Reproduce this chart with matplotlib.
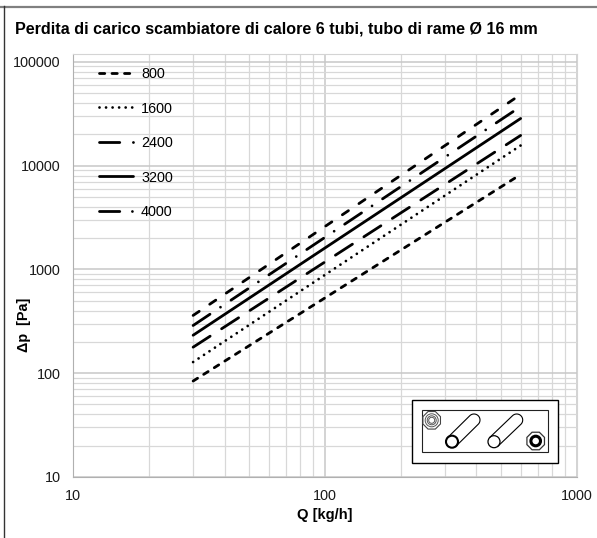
import numpy as np
import matplotlib
matplotlib.use('Agg')
import matplotlib.pyplot as plt
from matplotlib.patches import Rectangle, Circle, RegularPolygon

plt.rcParams['font.family'] = ['Liberation Sans', 'DejaVu Sans']
plt.rcParams['lines.scale_dashes'] = False

W, H = 597, 538

# values, Q [kg/h] and dp [Pa]
q = [30, 600]
dp_top = [360, 48300]
dp_4000 = [288, 37000]
dp_3200 = [232, 28400]
dp_2400 = [178, 19500]
dp_1600 = [128, 15600]
dp_800 = [84, 8200]

xticks = [10, 100, 1000]
yticks = [10, 100, 1000, 10000, 100000]

fig = plt.figure(figsize=(W / 100, H / 100), dpi=100)
ax = fig.add_axes([73 / W, 1 - 477 / H, (576.5 - 73) / W, (477 - 53.5) / H])

lw = 2.0
ax.plot(q, dp_top, color='black', lw=lw, ls=(0, (5.3, 9.1)), dash_capstyle='round')
ax.plot(q, dp_800, color='black', lw=lw, ls=(0, (3.8, 5.2)), dash_capstyle='round', label='800')
ax.plot(q, dp_1600, color='black', lw=2.0, ls=(0, (0.01, 4.7)), dash_capstyle='round', label='1600')
ax.plot(q, dp_2400, color='black', lw=lw, ls=(0, (14.6, 9.8)), dash_capstyle='round', label='2400')
ax.plot(q, dp_3200, color='black', lw=lw, solid_capstyle='round', label='3200')
ax.plot(q, dp_4000, color='black', lw=lw, ls=(0, (14.6, 9.1, 0.01, 9.1)), dash_capstyle='round', label='4000')

ax.set_xscale('log')
ax.set_yscale('log')
ax.set_xlim(10, 1000)
ax.set_ylim(10, 120000)
ax.set_xticks(xticks)
ax.set_xticklabels([str(v) for v in xticks])
ax.set_yticks(yticks)
ax.set_yticklabels([str(v) for v in yticks])
ax.minorticks_on()
ax.xaxis.set_minor_formatter(plt.NullFormatter())
ax.yaxis.set_minor_formatter(plt.NullFormatter())
ax.grid(which='major', color='#c8c8c8', lw=1.1)
ax.grid(which='minor', color='#d8d8d8', lw=0.9)
ax.set_axisbelow(True)
ax.tick_params(which='both', length=0, labelsize=10.4, colors='#1a1a1a')
ax.tick_params(axis='y', pad=9)
ax.tick_params(axis='x', pad=8.5)
for side in ['top', 'right']:
    ax.spines[side].set_color('#d4d4d4')
for side in ['left', 'bottom']:
    ax.spines[side].set_color('#b0b0b0')

ax.legend(loc='upper left', bbox_to_anchor=(26 / 503.5, 1 - 13.5 / 423.5), frameon=False,
          fontsize=10.4, handlelength=2.36, handletextpad=0.55, labelspacing=1.42,
          borderaxespad=0, borderpad=0)

fig.text(15 / W, 1 - 29 / H, 'Perdita di carico scambiatore di calore 6 tubi, tubo di rame Ø 16 mm',
         fontsize=11.6, fontweight='bold', va='center', ha='left')
fig.text(24 / W, 1 - 325 / H, 'Δp  [Pa]', rotation=90, fontsize=10.4, fontweight='bold', va='center', ha='center')
fig.text(325 / W, 1 - 515.5 / H, 'Q [kg/h]', fontsize=10.6, fontweight='bold', va='center', ha='center')

# overlay in pixel units for the frame and the exchanger sketch
ov = fig.add_axes([0, 0, 1, 1], facecolor='none')
ov.set_xlim(0, W)
ov.set_ylim(H, 0)
ov.axis('off')
ov.plot([0, W], [6.5, 6.5], color='#808080', lw=1.6)
ov.plot([3.5, 3.5], [6, H], color='#333333', lw=1.0)

ov.add_patch(Rectangle((411.5, 399.5), 146, 63, fc='white', ec='black', lw=1.0))
ov.add_patch(Rectangle((421.5, 410), 126, 42, fc='white', ec='#222222', lw=0.8))


def pipe(x0, y0, x1, y1, r, cap_lw):
    a = np.arctan2(y1 - y0, x1 - x0)
    t = np.linspace(a - np.pi / 2, a + np.pi / 2, 30)
    xs = np.concatenate([[x0 + r * np.cos(t[0])], x1 + r * np.cos(t), [x0 + r * np.cos(t[-1])]])
    ys = np.concatenate([[y0 + r * np.sin(t[0])], y1 + r * np.sin(t), [y0 + r * np.sin(t[-1])]])
    ov.plot(xs, ys, color='black', lw=0.8)
    ov.add_patch(Circle((x0, y0), r, fc='white', ec='black', lw=cap_lw))


pipe(452, 441.7, 474, 420, 6, 1.5)
pipe(494, 441.7, 516.7, 420, 6, 0.9)

ov.add_patch(RegularPolygon((431.7, 420.3), 8, radius=9.5, orientation=np.pi / 8, fc='white', ec='#444444', lw=0.8))
for r in [6.5, 4.5, 3]:
    ov.add_patch(Circle((431.7, 420.3), r, fc='none', ec='#555555', lw=0.7))
ov.add_patch(RegularPolygon((535.7, 441), 8, radius=9.5, orientation=np.pi / 8, fc='white', ec='#333333', lw=0.9))
ov.add_patch(Circle((535.7, 441), 4.8, fc='white', ec='black', lw=2.2))

fig.savefig('out.png', dpi=100)
